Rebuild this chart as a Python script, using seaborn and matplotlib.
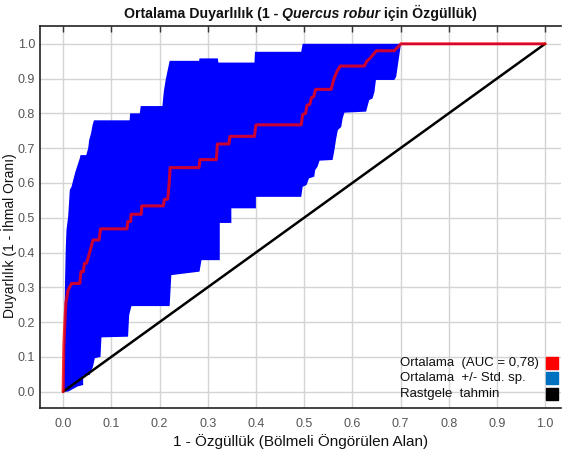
import numpy as np
import pandas as pd
import matplotlib
matplotlib.use("Agg")
import matplotlib.pyplot as plt
import seaborn as sns
from matplotlib.offsetbox import TextArea, HPacker, AnchoredOffsetbox

# mean ROC curve (red)
mean_x = [0.0, 0.0014, 0.0035, 0.0056, 0.0104, 0.0174, 0.0346, 0.037, 0.042, 0.044, 0.0485,
          0.055, 0.062, 0.0746, 0.0775, 0.1326, 0.134, 0.140, 0.141, 0.162, 0.163, 0.208,
          0.210, 0.217, 0.220, 0.222, 0.282, 0.284, 0.318, 0.320, 0.344, 0.346, 0.397,
          0.400, 0.494, 0.497, 0.503, 0.506, 0.512, 0.515, 0.520, 0.524, 0.556, 0.562,
          0.568, 0.575, 0.625, 0.630, 0.636, 0.650, 0.687, 0.701, 1.0]
mean_y = [0.0, 0.129, 0.197, 0.255, 0.292, 0.311, 0.311, 0.345, 0.345, 0.369, 0.369,
          0.40, 0.436, 0.436, 0.468, 0.468, 0.489, 0.489, 0.510, 0.510, 0.534, 0.534,
          0.553, 0.553, 0.600, 0.644, 0.644, 0.667, 0.667, 0.712, 0.712, 0.734, 0.734,
          0.767, 0.767, 0.797, 0.800, 0.823, 0.826, 0.845, 0.848, 0.869, 0.869, 0.900,
          0.920, 0.936, 0.936, 0.950, 0.957, 0.980, 0.980, 1.0, 1.0]

# mean + std (upper edge of blue band)
upper_x = [0.0, 0.002, 0.004, 0.0056, 0.007, 0.0104, 0.0139, 0.0174, 0.025, 0.0346, 0.036,
           0.048, 0.052, 0.054, 0.058, 0.061, 0.064, 0.138, 0.139, 0.159, 0.161, 0.206,
           0.209, 0.213, 0.221, 0.282, 0.283, 0.321, 0.322, 0.397, 0.398, 0.494, 0.497,
           0.701, 1.0]
upper_y = [0.0, 0.15, 0.32, 0.42, 0.465, 0.503, 0.58, 0.589, 0.63, 0.671, 0.68,
           0.68, 0.70, 0.723, 0.743, 0.766, 0.78, 0.78, 0.80, 0.80, 0.821, 0.821,
           0.864, 0.898, 0.951, 0.951, 0.958, 0.958, 0.946, 0.946, 0.977, 0.977, 1.0,
           1.0, 1.0]

# mean - std (lower edge of blue band)
lower_x = [0.0, 0.0104, 0.03, 0.0415, 0.0415, 0.055, 0.062, 0.0657, 0.0775, 0.0795, 0.1347,
           0.137, 0.1417, 0.221, 0.2245, 0.283, 0.287, 0.325, 0.325, 0.349, 0.349, 0.400,
           0.400, 0.494, 0.497, 0.505, 0.510, 0.521, 0.523, 0.528, 0.532, 0.559, 0.563,
           0.566, 0.570, 0.577, 0.580, 0.5836, 0.6286, 0.635, 0.642, 0.646, 0.649, 0.687,
           0.691, 0.701, 1.0]
lower_y = [0.0, 0.0, 0.015, 0.019, 0.046, 0.048, 0.072, 0.096, 0.100, 0.156, 0.158,
           0.220, 0.246, 0.246, 0.335, 0.345, 0.378, 0.378, 0.485, 0.485, 0.527, 0.527,
           0.560, 0.560, 0.589, 0.594, 0.613, 0.618, 0.637, 0.647, 0.664, 0.666, 0.695,
           0.723, 0.752, 0.761, 0.786, 0.802, 0.805, 0.838, 0.843, 0.862, 0.896, 0.896,
           0.905, 1.0, 1.0]

random_x = [0.0, 1.0]
random_y = [0.0, 1.0]

ticks = np.round(np.arange(0, 1.01, 0.1), 1)
legend_labels = ["Ortalama  (AUC = 0,78)", "Ortalama  +/- Std. sp.", "Rastgele  tahmin"]
legend_colors = ["#ff0000", "#0070c0", "#000000"]

sns.set_theme(style="white")
plt.rcParams["font.family"] = ["Liberation Sans", "DejaVu Sans"]

fig = plt.figure(figsize=(5.62, 4.59), dpi=100)
ax = fig.add_axes([40 / 562, 1 - 408 / 459, 521 / 562, (408 - 25.7) / 459])

ax.set_xlim(-0.048, 1.033)
ax.set_ylim(-0.047, 1.052)
ax.set_xticks(ticks)
ax.set_yticks(ticks)
ax.set_xticklabels([f"{t:.1f}" for t in ticks])
ax.set_yticklabels([f"{t:.1f}" for t in ticks])
ax.grid(True, color="#d4d4d4", lw=1)
ax.set_axisbelow(True)

# band polygon: upper edge, then lower edge backwards
band_x = upper_x + lower_x[::-1]
band_y = upper_y + lower_y[::-1]
ax.fill(band_x, band_y, color="#0000ff", lw=0, zorder=2)
ax.plot([0.701, 1.0], [1.0, 1.0], color="#0000ff", lw=1.2, zorder=2)

rand = pd.DataFrame({"x": random_x, "y": random_y})
sns.lineplot(data=rand, x="x", y="y", color="black", lw=1.8, ax=ax, zorder=3)

mean = pd.DataFrame({"x": mean_x, "y": mean_y})
sns.lineplot(data=mean, x="x", y="y", sort=False, estimator=None, color="#ff0000",
             alpha=0.8, lw=2.2, ax=ax, zorder=4)

ax.set_xlabel("1 - Özgüllük (Bölmeli Öngörülen Alan)", fontsize=11, color="#111111")
ax.set_ylabel("Duyarlılık (1 - İhmal Oranı)", fontsize=10, color="#111111")
ax.xaxis.set_label_coords(0.5, -0.068)
ax.yaxis.set_label_coords(-0.045, 0.45)

ax.tick_params(axis="both", direction="in", length=4, width=1, color="#333333",
               labelsize=9, labelcolor="#555555", top=True, right=False)
ax.tick_params(axis="x", pad=7)
ax.tick_params(axis="y", pad=3.5)
for side in ["left", "bottom", "top"]:
    ax.spines[side].set_color("#222222")
    ax.spines[side].set_linewidth(1.2)
ax.spines["right"].set_visible(False)

# title with italic species name
tp = dict(fontsize=10.2, fontweight="bold", color="#111111")
parts = [TextArea("Ortalama Duyarlılık (1 - ", textprops=tp),
         TextArea("Quercus robur", textprops=dict(tp, fontstyle="italic")),
         TextArea(" için Özgüllük)", textprops=tp)]
title_box = HPacker(children=parts, pad=0, sep=0, align="baseline")
anchored = AnchoredOffsetbox(loc="lower center", child=title_box, pad=0, borderpad=0,
                             frameon=False, bbox_to_anchor=(0.5, 1.012),
                             bbox_transform=ax.transAxes)
ax.add_artist(anchored)

# legend: left-aligned texts with colour squares on the right
row_y = [0.118, 0.078, 0.036]
for label, color, yy in zip(legend_labels, legend_colors, row_y):
    ax.text(0.691, yy, label, transform=ax.transAxes, ha="left", va="center",
            fontsize=9.5, color="#111111")
    ax.plot([0.983], [yy], transform=ax.transAxes, marker="s", markersize=8.5,
            color=color, linestyle="none", clip_on=False, zorder=5)

fig.savefig("out.png", dpi=100)
